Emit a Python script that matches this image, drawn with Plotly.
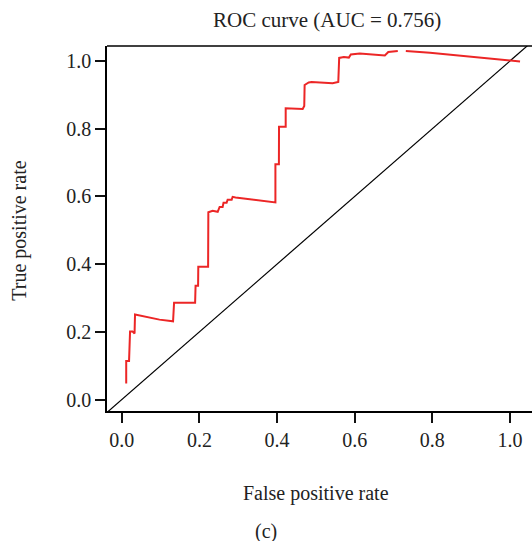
import plotly.graph_objects as go

# ROC curve points (None marks a small gap in the drawn line)
fpr = [0.0113, 0.0113, 0.0186, 0.0212, 0.0276, 0.0328, 0.0340, 0.0710, 0.0970, 0.1320,
       0.1346, 0.1888, 0.1900, 0.1965, 0.1970, 0.2223, 0.2229, 0.2340, 0.2470, 0.2520,
       0.2597, 0.2620, 0.2700, 0.2726, 0.2830, 0.2855, 0.2930, 0.3957, 0.3957, 0.4047,
       0.4050, 0.4222, 0.4222, 0.4660, 0.4700, 0.4710, 0.4816, 0.4890, 0.5430, 0.5577,
       0.5600, 0.5720, 0.5850, 0.5900, 0.6130, 0.6776, 0.6866, 0.7110, None, 0.7317,
       0.7940, 1.0260]
tpr = [0.047, 0.114, 0.114, 0.2006, 0.2006, 0.195, 0.251, 0.242, 0.236, 0.231,
       0.286, 0.286, 0.336, 0.336, 0.392, 0.392, 0.553, 0.5575, 0.5546, 0.569,
       0.569, 0.581, 0.581, 0.590, 0.590, 0.5988, 0.597, 0.582, 0.695, 0.695,
       0.806, 0.806, 0.860, 0.858, 0.867, 0.929, 0.9366, 0.938, 0.934, 0.938,
       1.009, 1.012, 1.010, 1.019, 1.022, 1.016, 1.0265, 1.0295, None, 1.0295,
       1.024, 0.9985]

# Chance diagonal (y = x)
diag = [-0.2, 1.2]

tick_vals = [0.0, 0.2, 0.4, 0.6, 0.8, 1.0]
tick_text = ["0.0", "0.2", "0.4", "0.6", "0.8", "1.0"]

title_text = "ROC curve (AUC = 0.756)"
x_title = "False positive rate"
y_title = "True positive rate"
panel_label = "(c)"

FONT = "Liberation Serif"
TXT = "#222222"

fig = go.Figure()
fig.add_trace(go.Scatter(x=diag, y=diag, mode="lines",
                         line=dict(color="black", width=1.2),
                         hoverinfo="skip", showlegend=False))
fig.add_trace(go.Scatter(x=fpr, y=tpr, mode="lines",
                         line=dict(color="rgb(236,38,38)", width=2),
                         connectgaps=False, showlegend=False))

axis_common = dict(showgrid=False, zeroline=False, showline=True,
                   linecolor="black", linewidth=1.5,
                   ticks="outside", ticklen=10, tickwidth=2, tickcolor="#111111",
                   tickvals=tick_vals, ticktext=tick_text,
                   tickfont=dict(family=FONT, size=20, color=TXT))

fig.update_layout(
    width=532, height=541,
    margin=dict(l=107, r=0, t=46, b=130),
    paper_bgcolor="white", plot_bgcolor="white",
    xaxis=dict(range=[-0.0382, 1.0568], **axis_common),
    yaxis=dict(range=[-0.0339, 1.0442], **axis_common),
    shapes=[dict(type="line", xref="paper", yref="paper", x0=0, x1=1, y0=1, y1=1,
                 line=dict(color="black", width=1.5))],
    annotations=[
        dict(text=title_text, xref="paper", yref="paper", x=0.5176, y=1.0711,
             xanchor="center", yanchor="middle", showarrow=False,
             font=dict(family=FONT, size=21, color=TXT)),
        dict(text=x_title, xref="paper", yref="paper", x=0.4906, y=-0.2257,
             xanchor="center", yanchor="middle", showarrow=False,
             font=dict(family=FONT, size=20, color=TXT)),
        dict(text=y_title, xref="paper", yref="paper", x=-0.2047, y=0.4938,
             xanchor="center", yanchor="middle", showarrow=False, textangle=-90,
             font=dict(family=FONT, size=20, color=TXT)),
        dict(text=panel_label, xref="paper", yref="paper", x=0.374, y=-0.3297,
             xanchor="center", yanchor="middle", showarrow=False,
             font=dict(family=FONT, size=20, color=TXT)),
    ],
)

fig.write_html("out.html")
